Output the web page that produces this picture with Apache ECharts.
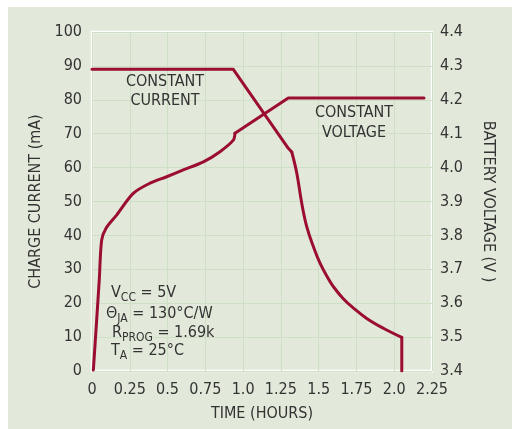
<!DOCTYPE html>
<html>
<head>
<meta charset="utf-8">
<script src="https://cdn.jsdelivr.net/npm/echarts@6/dist/echarts.min.js"></script>
<style>
html,body{margin:0;padding:0;background:#fff;width:512px;height:429px;overflow:hidden;}
#c{position:absolute;left:8px;top:7px;width:504px;height:422px;}
</style>
</head>
<body>
<div id="c"></div>
<script>
// Data
const xTicks = [0, 0.25, 0.5, 0.75, 1.0, 1.25, 1.5, 1.75, 2.0, 2.25];
const xTickLabels = ['0', '0.25', '0.5', '0.75', '1.0', '1.25', '1.5', '1.75', '2.0', '2.25'];
// Charge current (mA): constant part, fall-off curve, end-of-charge cut
const currentTime = [0, 0.935, 1.299, 1.322, 1.355, 1.388, 1.421, 1.465, 1.509, 1.564, 1.597, 1.663, 1.729, 1.818, 1.928, 2.05, 2.05];
const currentMA  = [89, 89, 65.7, 64.6, 58.4, 49.5, 42.6, 36.7, 31.8, 27.2, 24.9, 21.3, 18.6, 15.5, 12.6, 9.9, 0];
// Battery voltage (V)
const voltTime = [0.009, 0.048, 0.064, 0.093, 0.163, 0.273, 0.384, 0.494, 0.604, 0.737, 0.847, 0.935, 0.946, 1.299, 2.197];
const voltV    = [3.403, 3.668, 3.786, 3.821, 3.860, 3.924, 3.954, 3.973, 3.993, 4.017, 4.047, 4.081, 4.101, 4.205, 4.205];

const FONT = '"Liberation Sans Narrow", "DejaVu Sans Condensed", "Roboto", sans-serif';
const TXT = '#333333';
const LINE = '#9b0d32';
const OX = 8, OY = 7; // container offset in page

const pairs = (xs, ys, a, b) => xs.slice(a, b).map((t, i) => [t, ys[a + i]]);
const curStraight = pairs(currentTime, currentMA, 0, 4);   // flat + linear fall
const curCurve    = pairs(currentTime, currentMA, 3, 16);  // taper
const curCut      = pairs(currentTime, currentMA, 15, 17); // termination
const volCurve    = pairs(voltTime, voltV, 0, 13);
const volStraight = pairs(voltTime, voltV, 12, 15);

function label(text, x, y, align) {
  return {
    type: 'text', x: x - OX, y: y - OY, z: 100,
    style: {
      text: text, fill: TXT, font: '16px ' + FONT,
      align: align || 'left', verticalAlign: 'middle',
      rich: {
        m: {fontSize: 16, fontFamily: FONT, fill: TXT},
        s: {fontSize: 12, fontFamily: FONT, fill: TXT, padding: [9, 0, 0, 0]}
      }
    }
  };
}
function line(name, axis, data, smooth) {
  return {
    type: 'line', name: name, yAxisIndex: axis, data: data, symbol: 'none',
    smooth: smooth, lineStyle: {color: LINE, width: 3, cap: 'round', join: 'round'}, z: 5
  };
}

const chart = echarts.init(document.getElementById('c'));
chart.setOption({
  backgroundColor: '#e2e9da',
  animation: false,
  textStyle: {fontFamily: FONT, color: TXT},
  grid: {
    left: 92 - OX, top: 32 - OY, width: 340, height: 339,
    show: true, backgroundColor: 'transparent', borderColor: '#ffffff', borderWidth: 2.5
  },
  xAxis: {
    type: 'value', min: 0, max: 2.25, interval: 0.25,
    name: 'TIME (HOURS)', nameLocation: 'middle', nameGap: 35,
    nameTextStyle: {fontSize: 16, fontFamily: FONT, color: TXT},
    axisLine: {show: false}, axisTick: {show: false},
    axisLabel: {
      fontSize: 16, fontFamily: FONT, color: TXT, margin: 11,
      formatter: v => { const i = xTicks.findIndex(t => Math.abs(t - v) < 1e-6); return i >= 0 ? xTickLabels[i] : ''; }
    },
    splitLine: {show: true, lineStyle: {color: '#cfdfc6', width: 1}}
  },
  yAxis: [{
    type: 'value', min: 0, max: 100, interval: 10, position: 'left',
    name: 'CHARGE CURRENT (mA)', nameLocation: 'middle', nameGap: 47, nameRotate: 90,
    nameTextStyle: {fontSize: 16, fontFamily: FONT, color: TXT},
    axisLine: {show: false}, axisTick: {show: false},
    axisLabel: {fontSize: 16, fontFamily: FONT, color: TXT, margin: 10},
    splitLine: {show: true, lineStyle: {color: '#cfdfc6', width: 1}}
  }, {
    type: 'value', min: 3.4, max: 4.4, interval: 0.1, position: 'right',
    name: 'BATTERY VOLTAGE (V )', nameLocation: 'middle', nameGap: 48, nameRotate: -90,
    nameTextStyle: {fontSize: 16, fontFamily: FONT, color: TXT},
    axisLine: {show: false}, axisTick: {show: false},
    axisLabel: {fontSize: 16, fontFamily: FONT, color: TXT, margin: 8, formatter: v => v.toFixed(1)},
    splitLine: {show: false}
  }],
  series: [
    line('Charge current', 0, curStraight, false),
    line('Charge current', 0, curCurve, 0.4),
    line('Charge current', 0, curCut, false),
    line('Battery voltage', 1, volCurve, 0.3),
    line('Battery voltage', 1, volStraight, false)
  ],
  graphic: [
    label('CONSTANT', 165, 82, 'center'),
    label('CURRENT', 165, 101, 'center'),
    label('CONSTANT', 354, 113, 'center'),
    label('VOLTAGE', 354, 133, 'center'),
    label('{m|V}{s|CC}{m| = 5V}', 111, 293),
    label('{m|Θ}{s|JA}{m| = 130°C/W}', 106, 314),
    label('{m|R}{s|PROG}{m| = 1.69k}', 112, 333),
    label('{m|T}{s|A}{m| = 25°C}', 111, 351)
  ]
});
</script>
</body>
</html>
